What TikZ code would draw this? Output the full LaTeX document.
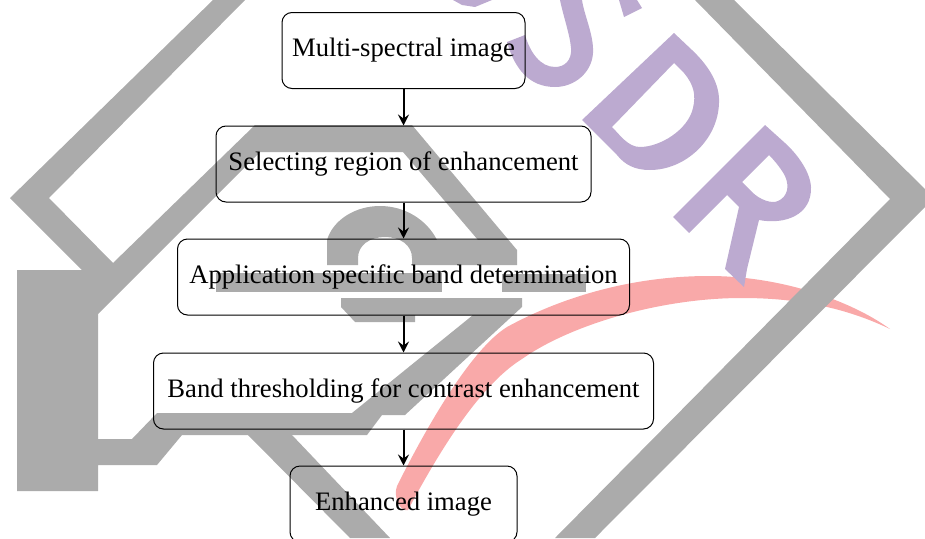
\documentclass[tikz,border=0pt]{standalone}
\usepackage{fontspec}
\setmainfont{Liberation Serif}
\usetikzlibrary{arrows.meta}
\definecolor{wmgray}{HTML}{ABABAB}
\definecolor{wmpurple}{HTML}{BCAAD0}
\definecolor{wmpink}{HTML}{F9A9A9}
\tikzset{
  flowbox/.style={draw=black,line width=1pt,rounded corners=10pt,inner sep=0pt,
    text height=44pt,text depth=32pt,font=\fontsize{26.65}{30}\selectfont},
  flowarrow/.style={draw=black,line width=2pt,-{Stealth[length=11pt,width=11pt,inset=4pt]}},
  wmg/.style={fill=wmgray,draw=none},
  wmp/.style={fill=wmpurple,draw=none,even odd rule},
  wmr/.style={fill=wmpink,draw=none}
}
\begin{document}
\begin{tikzpicture}[x=1pt,y=-1pt]
\useasboundingbox (0,0) rectangle (925,538);
\begin{scope}
\clip (0,0) rectangle (925,538);
% pink swoosh
\fill[wmr] (890,329) .. controls (850,300) and (780,276) .. (709,276)
  .. controls (630,276) and (560,298) .. (507,327)
  .. controls (470,350) and (425,430) .. (397,486)
  .. controls (393,497) and (400,512) .. (408,510)
  .. controls (440,450) and (480,385) .. (522,359)
  .. controls (570,325) and (660,298) .. (742,298)
  .. controls (790,298) and (840,305) .. (890,329) -- cycle;
% grey frame
\fill[wmg] (10,198)--(213,0)--(245,0)--(49,198)--(113,263)--(255,125)--(412,125)--(517,250)--(517,265)--(412,265)--(412,258)
  .. controls (412,245) and (400,237) .. (385,237) .. controls (370,237) and (358,245) .. (358,258)
  --(358,265)--(327,265)--(327,240) .. controls (333,220) and (355,206) .. (380,206) .. controls (405,206) and (427,220) .. (437,240)
  --(478,240)--(403,152)--(260,152)--(98,314)--(98,439)--(132,439)--(157,413)--(352,413)--(473,315)--(415,315)--(415,322)--(355,322)--(341,307)--(341,298)--(522,298)--(522,307)--(405,415)--(382,415)--(367,435)--(182,435)--(157,465)--(98,465)--(98,491)--(17,491)--(17,270)--(82,270)--cycle;
\fill[wmg] (216,273) rectangle (442,292);
\fill[wmg] (502,274) rectangle (586,292);
\fill[wmg] (248,435)--(292,435)--(390,538)--(350,538)--cycle;
\fill[wmg] (695,0)--(734,0)--(934,198)--(595,538)--(555,538)--(890,199)--cycle;
% S
\fill[wmp] (507,42)--(525,35) .. controls (530,52) and (540,67) .. (555,67)
  .. controls (565,67) and (572,60) .. (571,48) .. controls (570,35) and (563,15) .. (560,0)
  -- (582,0) .. controls (584,15) and (594,35) .. (593,53)
  .. controls (592,72) and (575,87) .. (555,87) .. controls (530,87) and (515,70) .. (507,42) -- cycle;
\fill[wmp] (619,0)--(637,0)--(642,8)--(624,17)--cycle;
\fill[wmp] (453,0)--(462,5)--(475,7)--(492,0)--cycle;
% D
\fill[wmp] (674,33) -- (692,50) .. controls (710,67) and (720,85) .. (719,103)
  .. controls (718,140) and (685,170) .. (650,170) .. controls (635,170) and (625,165) .. (617,155) -- (582,120) -- cycle
  (674,63) -- (684,73) .. controls (694,85) and (696,95) .. (693,108)
  .. controls (688,130) and (660,147) .. (640,147) .. controls (628,147) and (620,135) .. (612,127) -- cycle;
% R
\fill[wmp] (765,125)--(673,217)--(689,233)--(727,195)--(739,207)--(725,269)--(744,287)--(747,269)--(759,220)
  .. controls (785,225) and (812,215) .. (811,187) .. controls (810,170) and (795,152) .. (785,143) -- cycle
  (769,155)--(742,182)--(752,192) .. controls (760,200) and (772,204) .. (778,201)
  .. controls (787,197) and (790,187) .. (785,176) .. controls (782,170) and (775,161) .. (769,155) -- cycle;
\end{scope}
% flow
\node[flowbox,minimum width=243pt] (multi) at (403.5,50.5) {Multi-spectral image};
\node[flowbox,minimum width=375pt] (region) at (403.5,164) {Selecting region of enhancement};
\node[flowbox,minimum width=452pt] (band) at (403.5,277) {Application specific band determination};
\node[flowbox,minimum width=500pt] (thresh) at (403.5,391) {Band thresholding for contrast enhancement};
\node[flowbox,minimum width=227pt] (enh) at (403.5,504) {Enhanced image};
\draw[flowarrow] (multi.south) -- (region.north);
\draw[flowarrow] (region.south) -- (band.north);
\draw[flowarrow] (band.south) -- (thresh.north);
\draw[flowarrow] (thresh.south) -- (enh.north);
\end{tikzpicture}
\end{document}
